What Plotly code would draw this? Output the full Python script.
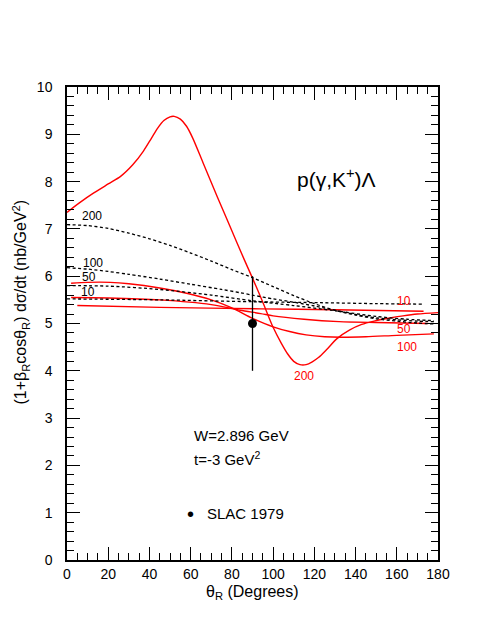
import plotly.graph_objects as go

# ---- data ----
# red solid curves (label -> theta, value)
red200_theta = [0, 6, 13, 20, 26, 32, 37, 41, 44, 47, 50, 52, 55, 58, 61, 66, 73, 79, 86, 90, 95, 100, 104, 107, 110, 113, 116, 119, 122, 126, 131, 137, 143, 149, 156, 163, 170, 180]
red200_val = [7.35, 7.55, 7.76, 7.95, 8.11, 8.36, 8.64, 8.92, 9.13, 9.29, 9.37, 9.38, 9.32, 9.17, 8.92, 8.40, 7.67, 7.06, 6.35, 5.96, 5.45, 4.92, 4.58, 4.36, 4.20, 4.13, 4.13, 4.19, 4.28, 4.45, 4.68, 4.86, 4.98, 5.05, 5.11, 5.16, 5.20, 5.23]

red100_theta = [2, 10, 21, 30, 45, 58, 70, 80, 90, 100, 108, 116, 125, 133, 145, 160, 178]
red100_val = [5.85, 5.87, 5.87, 5.84, 5.75, 5.64, 5.50, 5.33, 5.11, 4.93, 4.83, 4.76, 4.72, 4.71, 4.72, 4.75, 4.78]

red50_theta = [2, 20, 45, 70, 84, 94, 100, 115, 132, 150, 175]
red50_val = [5.55, 5.54, 5.50, 5.40, 5.28, 5.21, 5.16, 5.09, 5.04, 5.02, 5.00]

red10_theta = [5, 45, 94, 130, 173]
red10_val = [5.38, 5.34, 5.31, 5.29, 5.26]

# black dashed curves
blk200_theta = [0, 10, 20, 30, 40, 50, 60, 70, 80, 90, 100, 110, 120, 130, 140, 150, 160, 170, 178]
blk200_val = [7.09, 7.07, 7.01, 6.91, 6.79, 6.65, 6.49, 6.32, 6.14, 5.97, 5.78, 5.59, 5.42, 5.28, 5.18, 5.10, 5.05, 5.01, 4.99]

blk100_theta = [0, 10, 20, 30, 45, 60, 75, 84, 90, 100, 110, 120, 130, 140, 150, 160, 170, 178]
blk100_val = [6.18, 6.15, 6.10, 6.04, 5.94, 5.83, 5.72, 5.65, 5.60, 5.52, 5.45, 5.37, 5.28, 5.19, 5.12, 5.08, 5.05, 5.04]

blk50_theta = [0, 20, 45, 70, 90, 110, 130, 150, 165, 178]
blk50_val = [5.80, 5.79, 5.72, 5.60, 5.48, 5.38, 5.27, 5.15, 5.09, 5.06]

blk10_theta = [0, 45, 90, 123, 150, 173]
blk10_val = [5.52, 5.50, 5.46, 5.44, 5.42, 5.41]

# measured point (SLAC 1979)
data_theta = [90]
data_val = [5.0]
data_err = [1.0]

x_ticks = [0, 20, 40, 60, 80, 100, 120, 140, 160, 180]
y_ticks = [0, 1, 2, 3, 4, 5, 6, 7, 8, 9, 10]

FONT = "Liberation Sans, Arial, Helvetica, sans-serif"
RED = "#ff0000"

fig = go.Figure()

for th, v in [(red200_theta, red200_val), (red100_theta, red100_val),
              (red50_theta, red50_val), (red10_theta, red10_val)]:
    fig.add_trace(go.Scatter(x=th, y=v, mode="lines", showlegend=False,
                             line=dict(color=RED, width=1.4, shape="spline", smoothing=0.8)))

for th, v in [(blk200_theta, blk200_val), (blk100_theta, blk100_val),
              (blk50_theta, blk50_val), (blk10_theta, blk10_val)]:
    fig.add_trace(go.Scatter(x=th, y=v, mode="lines", showlegend=False,
                             line=dict(color="black", width=1.3, dash="3px,2.5px",
                                       shape="spline", smoothing=0.8)))

fig.add_trace(go.Scatter(x=data_theta, y=data_val, mode="markers", showlegend=False,
                         marker=dict(color="black", size=9),
                         error_y=dict(type="data", array=data_err, color="black",
                                      thickness=1.3, width=0)))

# curve labels
lab_black = [("200", 12.3, 7.28), ("100", 12.4, 6.28), ("50", 10.6, 5.99), ("10", 10.1, 5.67)]
lab_red = [("10", 163.7, 5.48), ("50", 163.7, 4.88), ("100", 165.1, 4.50), ("200", 115.0, 3.89)]
ann = []
for t, x, y in lab_black:
    ann.append(dict(x=x, y=y, text=t, showarrow=False, xref="x", yref="y",
                    font=dict(family=FONT, size=12, color="black")))
for t, x, y in lab_red:
    ann.append(dict(x=x, y=y, text=t, showarrow=False, xref="x", yref="y",
                    font=dict(family=FONT, size=12, color=RED)))

ann.append(dict(x=130.9, y=8.08, text="p(γ,K<sup>+</sup>)Λ", showarrow=False,
                xref="x", yref="y", font=dict(family=FONT, size=21, color="black")))
ann.append(dict(x=60.5, y=2.64, text="W=2.896 GeV", showarrow=False, xanchor="left",
                xref="x", yref="y", font=dict(family=FONT, size=15, color="black")))
ann.append(dict(x=60.5, y=2.15, text="t=-3 GeV<sup>2</sup>", showarrow=False, xanchor="left",
                xref="x", yref="y", font=dict(family=FONT, size=15, color="black")))
ann.append(dict(x=60.0, y=0.98, text="•", showarrow=False,
                xref="x", yref="y", font=dict(family=FONT, size=20, color="black")))
ann.append(dict(x=66.8, y=0.98, text="SLAC 1979", showarrow=False, xanchor="left",
                xref="x", yref="y", font=dict(family=FONT, size=15, color="black")))

# axis titles
ann.append(dict(x=0.5, y=-0.068, xref="paper", yref="paper", showarrow=False,
                text="θ<sub>R</sub> (Degrees)", yanchor="middle",
                font=dict(family=FONT, size=16, color="black")))
ann.append(dict(x=-0.125, y=0.5456, xref="paper", yref="paper", showarrow=False,
                text="(1+β<sub>R</sub>cosθ<sub>R</sub>) dσ/dt (nb/GeV<sup>2</sup>)",
                textangle=-90, xanchor="center", yanchor="middle",
                font=dict(family=FONT, size=16, color="black")))

axis_common = dict(showline=True, linecolor="black", linewidth=1.5, mirror="ticks",
                   ticks="inside", ticklen=13, tickwidth=1.2, tickcolor="black",
                   showgrid=False, zeroline=False,
                   tickfont=dict(family=FONT, size=14, color="black"))

# the page body adds an 8px offset, so margins are reduced accordingly
fig.update_layout(
    width=485, height=627,
    margin=dict(l=59, r=55, t=79, b=75),
    paper_bgcolor="white", plot_bgcolor="white",
    xaxis=dict(range=[0, 180], tickvals=x_ticks,
               minor=dict(dtick=5, ticks="inside", ticklen=7, tickwidth=1.2, tickcolor="black"),
               **axis_common),
    yaxis=dict(range=[0, 10], tickvals=y_ticks, ticklabelstandoff=10,
               minor=dict(dtick=0.2, ticks="inside", ticklen=7, tickwidth=1.2, tickcolor="black"),
               **axis_common),
    annotations=ann,
    showlegend=False,
)

fig.write_html("out.html")
